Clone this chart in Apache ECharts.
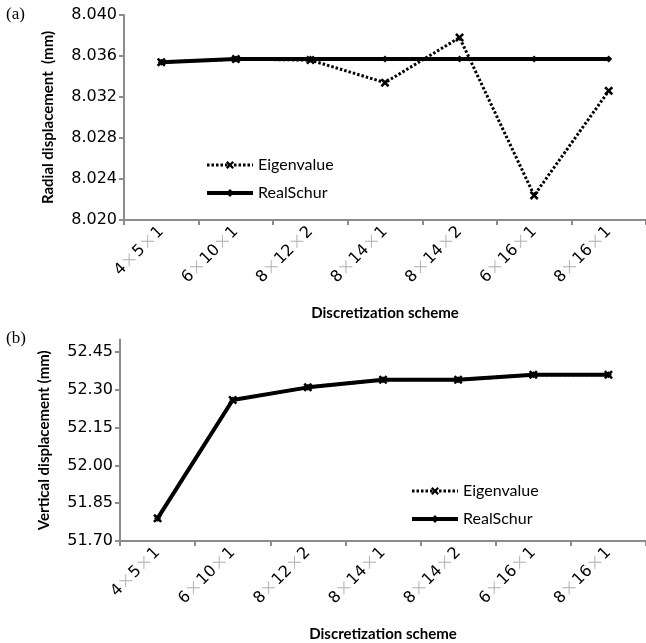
<!DOCTYPE html>
<html><head><meta charset="utf-8">
<script src="https://cdn.jsdelivr.net/npm/echarts@6/dist/echarts.min.js"></script>
<style>html,body{margin:0;padding:0;background:#fff}#c{width:646px;height:643px}</style>
</head><body><div id="c"></div>
<script>
const categories = ['4×5×1','6×10×1','8×12×2','8×14×1','8×14×2','6×16×1','8×16×1'];
const radialEigen = [8.0354, 8.0357, 8.0356, 8.0334, 8.0378, 8.0224, 8.0326];
const radialSchur = [8.0354, 8.0357, 8.0357, 8.0357, 8.0357, 8.0357, 8.0357];
const vertEigen = [51.79, 52.26, 52.31, 52.34, 52.34, 52.36, 52.36];
const vertSchur = [51.79, 52.26, 52.31, 52.34, 52.34, 52.36, 52.36];
const radialTicks = {min: 8.020, max: 8.040, interval: 0.004};
const vertTicks = {min: 51.70, max: 52.50, interval: 0.15, lastLabel: 52.45};

const FONT = 'DejaVu Sans';
const NFONT = 'Lato';
const X_PATH = 'path://M0,2L2,0L5,3L8,0L10,2L7,5L10,8L8,10L5,7L2,10L0,8L3,5Z';
const DOT = [2.5, 2];
const chart = echarts.init(document.getElementById('c'), null, {renderer: 'canvas'});

function xAxis(gridIndex) {
  return {
    type: 'category', gridIndex, data: categories, boundaryGap: true,
    axisLine: {lineStyle: {color: '#8c8c8c', width: 2}},
    axisTick: {show: true, length: 5, lineStyle: {color: '#8c8c8c', width: 2}},
    axisLabel: {
      rotate: 45, margin: 9, fontFamily: FONT, fontSize: 16, color: '#000',
      formatter: v => v.split('×').join('{x|×}'),
      rich: {x: {color: '#b0b0b0', fontFamily: FONT, fontSize: 19, fontWeight: 200}}
    },
    name: 'Discretization scheme', nameLocation: 'middle', nameGap: 86,
    nameTextStyle: {fontFamily: NFONT, fontSize: 15, fontWeight: 'bold', color: '#000'}
  };
}
function yAxis(gridIndex, t, name, dec) {
  return {
    type: 'value', gridIndex, min: t.min, max: t.max, interval: t.interval,
    axisLine: {show: true, lineStyle: {color: '#8c8c8c', width: 2}},
    axisTick: {show: true, length: 5, lineStyle: {color: '#8c8c8c', width: 2}},
    splitLine: {show: false},
    axisLabel: {fontFamily: FONT, fontSize: 16, color: '#000', margin: 7,
      showMaxLabel: t.lastLabel === undefined,
      formatter: v => (t.lastLabel !== undefined && v > t.lastLabel + 1e-9) ? '' : v.toFixed(dec)},
    name, nameLocation: 'middle', nameGap: 68,
    nameTextStyle: {fontFamily: NFONT, fontSize: 15, fontWeight: 'bold', color: '#000'}
  };
}
function eigen(i, data) {
  return {name: 'Eigenvalue', type: 'line', xAxisIndex: i, yAxisIndex: i, data,
    symbol: X_PATH, symbolSize: 9, showAllSymbol: true,
    lineStyle: {color: '#000', width: 3, type: DOT},
    itemStyle: {color: '#000'}, z: 2};
}
function schur(i, data) {
  return {name: 'RealSchur', type: 'line', xAxisIndex: i, yAxisIndex: i, data,
    symbol: 'diamond', symbolSize: 7, showAllSymbol: true,
    lineStyle: {color: '#000', width: 4}, itemStyle: {color: '#000'}, z: 3};
}
function legend(left, top) {
  return {
    orient: 'vertical', left, top, itemWidth: 46, itemHeight: 10, itemGap: 12,
    data: [
      {name: 'Eigenvalue', lineStyle: {width: 3, type: DOT, color: '#000'}},
      {name: 'RealSchur', lineStyle: {width: 4, color: '#000'}}
    ],
    textStyle: {fontFamily: NFONT, fontSize: 16, color: '#000'},
    selectedMode: false
  };
}

chart.setOption({
  animation: false,
  backgroundColor: '#fff',
  grid: [
    {left: 124, top: 15, width: 528, height: 205},
    {left: 120, top: 339.5, width: 532, height: 204.8}
  ],
  xAxis: [xAxis(0), xAxis(1)],
  yAxis: [
    yAxis(0, radialTicks, 'Radial displacement  (mm)', 3),
    yAxis(1, vertTicks, 'Vertical displacement (mm)', 2)
  ],
  legend: [legend(200, 152), legend(405, 478)],
  series: [eigen(0, radialEigen), schur(0, radialSchur), eigen(1, vertEigen), schur(1, vertSchur)],
  graphic: [
    {type: 'text', left: 6, top: 6, style: {text: '(a)', font: '17px "Liberation Serif"', fill: '#000'}},
    {type: 'text', left: 6, top: 330, style: {text: '(b)', font: '17px "Liberation Serif"', fill: '#000'}}
  ]
});
</script></body></html>
